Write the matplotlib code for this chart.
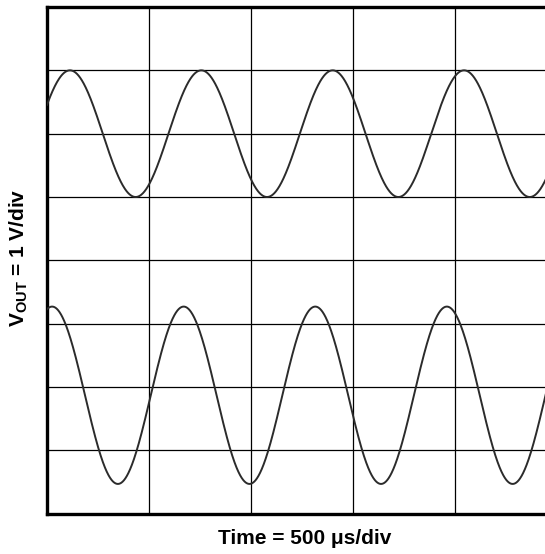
import matplotlib as mpl
import matplotlib.pyplot as plt
import numpy as np

mpl.rcParams['font.family'] = ['Liberation Sans', 'DejaVu Sans']
mpl.rcParams['mathtext.fontset'] = 'custom'
mpl.rcParams['mathtext.rm'] = 'Liberation Sans'
mpl.rcParams['mathtext.bf'] = 'Liberation Sans:bold'

# screen in divisions
n_xdiv, n_ydiv = 5, 8

# traces (units: divisions)
trace_names = ['upper', 'lower']
trace_offset = [6.0, 1.87]
trace_amplitude = [1.0, 1.40]
trace_period = [1.288, 1.29]
trace_first_peak = [0.225, 0.05]

x_label = 'Time = 500 \u03bcs/div'
y_label = r'$\mathbf{V_{OUT}}$ = 1 V/div'

fig = plt.figure(figsize=(5.45, 5.54), dpi=100)
ax = fig.add_axes([47 / 545, 40.3 / 554, 510 / 545, 506.7 / 554])

t = np.linspace(0, n_xdiv, 2000)
for off, amp, per, pk in zip(trace_offset, trace_amplitude, trace_period,
                             trace_first_peak):
    v = off + amp * np.cos(2 * np.pi * (t - pk) / per)
    ax.plot(t, v, color='#2b2b2b', lw=1.4, zorder=3)

ax.set_xlim(0, n_xdiv)
ax.set_ylim(0, n_ydiv)
ax.set_xticks(np.arange(1, n_xdiv))
ax.set_yticks(np.arange(1, n_ydiv))
ax.grid(color='black', lw=0.9)
ax.tick_params(length=0, labelbottom=False, labelleft=False)
for s in ax.spines.values():
    s.set_linewidth(2.4)

fig.text(305 / 545, 1 - 539 / 554, x_label, ha='center', va='center',
         fontsize=15, fontweight='bold')
fig.text(19 / 545, 1 - 258 / 554, y_label, ha='center', va='center',
         rotation=90, fontsize=15, fontweight='bold')

fig.savefig('out.png', dpi=100)
